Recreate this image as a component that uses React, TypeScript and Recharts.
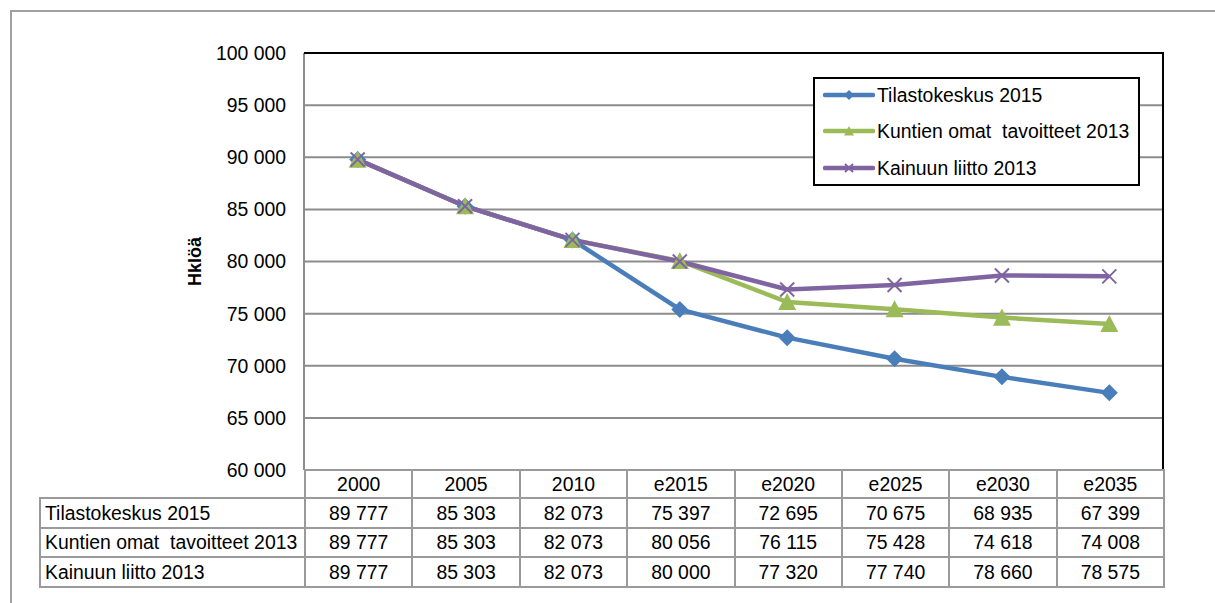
import React from "react";
import { CartesianGrid, Line, LineChart, XAxis, YAxis } from "recharts";

const categories = ["2000", "2005", "2010", "e2015", "e2020", "e2025", "e2030", "e2035"];
const tilastokeskus = [89777, 85303, 82073, 75397, 72695, 70675, 68935, 67399];
const kuntien = [89777, 85303, 82073, 80056, 76115, 75428, 74618, 74008];
const kainuu = [89777, 85303, 82073, 80000, 77320, 77740, 78660, 78575];
const yTicks = [60000, 65000, 70000, 75000, 80000, 85000, 90000, 95000, 100000];

const seriesNames = ["Tilastokeskus 2015", "Kuntien omat  tavoitteet 2013", "Kainuun liitto 2013"];
const seriesKeys = ["tilasto", "kuntien", "kainuu"];
const seriesValues = [tilastokeskus, kuntien, kainuu];
const seriesColors = ["#4a7ebb", "#9bbb59", "#8064a2"];

const font = '"Liberation Sans", Arial, sans-serif';
const fontSize = 19.4;
const W = 1215;
const H = 603;
const plotLeft = 304;
const plotRight = 1163;
const plotTop = 53;
const plotBottom = 470;
const colW = (plotRight - plotLeft) / categories.length;

const data = categories.map((cat, i) => ({
  cat,
  tilasto: tilastokeskus[i],
  kuntien: kuntien[i],
  kainuu: kainuu[i],
}));

function formatNumber(v: number): string {
  return String(v).replace(/\B(?=(\d{3})+(?!\d))/g, " ");
}

function Diamond({ cx, cy, size = 8.5, color }: any) {
  if (cx == null || cy == null) return null;
  return (
    <path d={`M${cx},${cy - size} L${cx + size},${cy} L${cx},${cy + size} L${cx - size},${cy} Z`} fill={color} />
  );
}

function Triangle({ cx, cy, size = 9, color }: any) {
  if (cx == null || cy == null) return null;
  return (
    <path d={`M${cx},${cy - size} L${cx + size},${cy + size * 0.9} L${cx - size},${cy + size * 0.9} Z`} fill={color} />
  );
}

function Cross({ cx, cy, size = 7, color }: any) {
  if (cx == null || cy == null) return null;
  return (
    <g stroke={color} strokeWidth={2}>
      <line x1={cx - size} y1={cy - size} x2={cx + size} y2={cy + size} />
      <line x1={cx - size} y1={cy + size} x2={cx + size} y2={cy - size} />
    </g>
  );
}

const markers = [Diamond, Triangle, Cross];

function LegendSample({ index }: { index: number }) {
  const Marker = markers[index];
  const color = seriesColors[index];
  return (
    <svg width={52} height={14} style={{ display: "block" }}>
      <line x1={2} y1={7} x2={50} y2={7} stroke={color} strokeWidth={4.5} strokeLinecap="round" />
      <Marker cx={26} cy={7} size={index === 2 ? 4 : 5} color={color} />
    </svg>
  );
}

const cellBorder = "2px solid #9a9a9a";

export default function App() {
  return (
    <div
      style={{
        position: "absolute",
        left: 0,
        top: 0,
        width: W,
        height: H,
        overflow: "hidden",
        background: "#fff",
        fontFamily: font,
      }}
    >
      <div
        style={{
          position: "absolute",
          left: 10,
          top: 10,
          width: W + 20,
          height: H + 20,
          borderTop: "2px solid #a0a0a0",
          borderLeft: "2px solid #a0a0a0",
        }}
      />
      <LineChart
        width={W}
        height={H}
        data={data}
        margin={{ top: plotTop, right: W - plotRight, bottom: H - plotBottom, left: plotLeft - 80 }}
        style={{ position: "absolute", left: 0, top: 0 }}
      >
        <CartesianGrid stroke="#8c8c8c" strokeWidth={2} vertical={false} />
        <XAxis dataKey="cat" hide padding={{ left: colW / 2, right: colW / 2 }} />
        <YAxis
          width={80}
          domain={[60000, 100000]}
          ticks={yTicks}
          interval={0}
          tickFormatter={(v) => formatNumber(Number(v))}
          tick={{ fill: "#000", fontSize, fontFamily: font }}
          tickLine={false}
          tickSize={0}
          tickMargin={18}
          axisLine={{ stroke: "#8c8c8c", strokeWidth: 2 }}
          label={{
            content: ({ viewBox }: any) => {
              const x = viewBox.x - 29;
              const y = viewBox.y + viewBox.height / 2;
              return (
                <text
                  x={x}
                  y={y}
                  transform={`rotate(-90 ${x} ${y})`}
                  textAnchor="middle"
                  dominantBaseline="central"
                  fontFamily={font}
                  fontSize={18}
                  fontWeight="bold"
                  fill="#000"
                >
                  Hklöä
                </text>
              );
            },
          }}
        />
        {seriesKeys.map((key, i) => {
          const Marker = markers[i];
          return (
            <Line
              key={key}
              dataKey={key}
              name={seriesNames[i]}
              stroke={seriesColors[i]}
              strokeWidth={4.5}
              type="linear"
              isAnimationActive={false}
              dot={(p: any) => <Marker key={`${key}-${p.index}`} cx={p.cx} cy={p.cy} color={seriesColors[i]} />}
              activeDot={false}
            />
          );
        })}
      </LineChart>

      {/* plot area frame, top and right */}
      <div
        style={{
          position: "absolute",
          left: plotLeft,
          top: plotTop - 1,
          width: plotRight - plotLeft + 1,
          height: plotBottom - plotTop,
          borderTop: "2px solid #000",
          borderRight: "2px solid #000",
          boxSizing: "border-box",
          pointerEvents: "none",
        }}
      />

      {/* legend */}
      <div
        style={{
          position: "absolute",
          left: 813,
          top: 77,
          width: 327,
          height: 109,
          boxSizing: "border-box",
          border: "2px solid #000",
          background: "#fff",
        }}
      >
        {seriesNames.map((name, i) => (
          <div key={name} style={{ display: "flex", alignItems: "center", height: 36.3, marginLeft: 8, marginTop: i === 0 ? -2 : 0 }}>
            <LegendSample index={i} />
            <span style={{ fontSize, whiteSpace: "pre", marginLeft: 2, lineHeight: "20px" }}>{name}</span>
          </div>
        ))}
      </div>

      {/* data table */}
      <table
        style={{
          position: "absolute",
          left: 39,
          top: 469,
          borderCollapse: "collapse",
          tableLayout: "fixed",
          width: plotRight - 39 + 1,
          fontSize,
          fontFamily: font,
        }}
      >
        <colgroup>
          <col style={{ width: plotLeft - 39 }} />
          {categories.map((c) => (
            <col key={c} style={{ width: colW }} />
          ))}
        </colgroup>
        <tbody>
          <tr style={{ height: 28 }}>
            <td style={{ border: "none", padding: 0 }} />
            {categories.map((c) => (
              <td key={c} style={{ border: cellBorder, textAlign: "center", padding: 0, lineHeight: "22px" }}>
                {c}
              </td>
            ))}
          </tr>
          {seriesNames.map((name, i) => (
            <tr key={name} style={{ height: 29.5 }}>
              <td style={{ border: cellBorder, padding: "0 0 0 4px", whiteSpace: "pre", lineHeight: "22px" }}>{name}</td>
              {seriesValues[i].map((v, j) => (
                <td key={j} style={{ border: cellBorder, textAlign: "center", padding: 0, lineHeight: "22px" }}>
                  {formatNumber(v)}
                </td>
              ))}
            </tr>
          ))}
        </tbody>
      </table>
    </div>
  );
}
